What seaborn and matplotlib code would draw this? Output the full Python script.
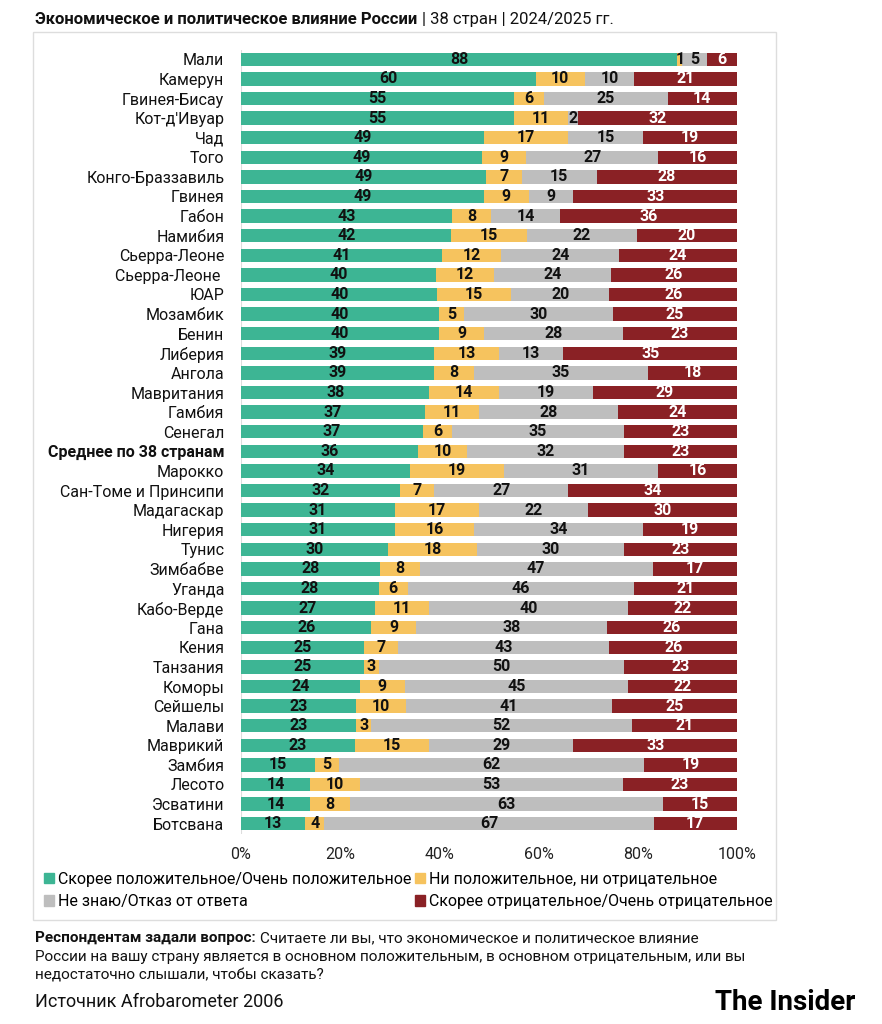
import numpy as np
import pandas as pd
import matplotlib
matplotlib.use("Agg")
import matplotlib.pyplot as plt
import matplotlib.patches as mpatches
import seaborn as sns

countries = ['Мали', 'Камерун', 'Гвинея-Бисау', "Кот-д'Ивуар", 'Чад', 'Того', 'Конго-Браззавиль',
             'Гвинея', 'Габон', 'Намибия', 'Сьерра-Леоне', 'Сьерра-Леоне ', 'ЮАР', 'Мозамбик', 'Бенин',
             'Либерия', 'Ангола', 'Мавритания', 'Гамбия', 'Сенегал', 'Среднее по 38 странам', 'Марокко',
             'Сан-Томе и Принсипи', 'Мадагаскар', 'Нигерия', 'Тунис', 'Зимбабве', 'Уганда', 'Кабо-Верде',
             'Гана', 'Кения', 'Танзания', 'Коморы', 'Сейшелы', 'Малави', 'Маврикий', 'Замбия', 'Лесото',
             'Эсватини', 'Ботсвана']
positive = [88, 60, 55, 55, 49, 49, 49, 49, 43, 42, 41, 40, 40, 40, 40, 39, 39, 38, 37, 37, 36, 34,
            32, 31, 31, 30, 28, 28, 27, 26, 25, 25, 24, 23, 23, 23, 15, 14, 14, 13]
neutral = [1, 10, 6, 11, 17, 9, 7, 9, 8, 15, 12, 12, 15, 5, 9, 13, 8, 14, 11, 6, 10, 19,
           7, 17, 16, 18, 8, 6, 11, 9, 7, 3, 9, 10, 3, 15, 5, 10, 8, 4]
dont_know = [5, 10, 25, 2, 15, 27, 15, 9, 14, 22, 24, 24, 20, 30, 28, 13, 35, 19, 28, 35, 32, 31,
             27, 22, 34, 30, 47, 46, 40, 38, 43, 50, 45, 41, 52, 29, 62, 53, 63, 67]
negative = [6, 21, 14, 32, 19, 16, 28, 33, 36, 20, 24, 26, 26, 25, 23, 35, 18, 29, 24, 23, 23, 16,
            34, 30, 19, 23, 17, 21, 22, 26, 26, 23, 22, 25, 21, 33, 19, 23, 15, 17]

series_names = ['Скорее положительное/Очень положительное', 'Ни положительное, ни отрицательное',
                'Не знаю/Отказ от ответа', 'Скорее отрицательное/Очень отрицательное']
colors = ['#3DB594', '#F6C35E', '#BEBEBE', '#8A2125']
text_colors = ['#111111', '#111111', '#111111', '#FFFFFF']

# %% data
df = pd.DataFrame({'country': countries, 'pos': positive, 'neu': neutral,
                   'dk': dont_know, 'neg': negative})
cols = ['pos', 'neu', 'dk', 'neg']
shares = df[cols].div(df[cols].sum(axis=1), axis=0) * 100
cum = shares.cumsum(axis=1)
cum['country'] = df['country']

FONT = 'Roboto'
plt.rcParams['font.family'] = [FONT, 'DejaVu Sans']

fig = plt.figure(figsize=(8.82, 10.24), dpi=100)
fig.patch.set_facecolor('white')

# box around the chart
fig.add_artist(mpatches.Rectangle((33 / 882, 1 - 920 / 1024), (776 - 33) / 882, (920 - 32) / 1024,
                                  transform=fig.transFigure, facecolor='none',
                                  edgecolor='#DDDDDD', linewidth=1.0))

ax = fig.add_axes([241 / 882, 1 - 833.5 / 1024, (737 - 241) / 882, 784 / 1024])

# stacked bars: draw cumulative totals from the largest down
for col, color in reversed(list(zip(cols, colors))):
    sns.barplot(data=cum, x=col, y='country', color=color, width=0.68,
                orient='h', ax=ax, saturation=1, linewidth=0, order=countries)

for i in range(len(df)):
    for j, col in enumerate(cols):
        left = cum[cols[j - 1]].iloc[i] if j > 0 else 0
        center = left + shares[col].iloc[i] / 2
        ax.text(center, i, str(df[col].iloc[i]), ha='center', va='center',
                fontsize=11.5, fontweight='bold', color=text_colors[j])

ax.set_xlim(0, 100)
ax.set_xticks([0, 20, 40, 60, 80, 100])
ax.set_xticklabels(['0%', '20%', '40%', '60%', '80%', '100%'])
ax.set_xlabel('')
ax.set_ylabel('')
ax.tick_params(axis='x', length=0, pad=10, labelsize=11.5, colors='#222222')
ax.tick_params(axis='y', length=0, pad=12, labelsize=11.5, colors='#111111')
for lbl in ax.get_yticklabels():
    if lbl.get_text().startswith('Среднее'):
        lbl.set_fontweight('bold')
for s in ax.spines.values():
    s.set_visible(False)
ax.axvline(0, color='#DDDDDD', linewidth=0.8, zorder=0)

# legend: column order gives rows green/yellow, gray/red
handles = [mpatches.Patch(color=c) for c in colors]
order = [0, 2, 1, 3]
fig.legend([handles[k] for k in order], [series_names[k] for k in order], ncol=2,
           loc='upper left', bbox_to_anchor=(44 / 882, 1 - 872 / 1024), frameon=False,
           fontsize=11.5, handlelength=0.6, handleheight=0.6, handletextpad=0.3,
           columnspacing=0.2, labelspacing=0.45, borderaxespad=0, borderpad=0)

renderer = fig.canvas.get_renderer()


def two_part(x, y, bold, rest, size):
    t = fig.text(x, y, bold, fontsize=size, fontweight='bold', va='baseline', color='#111111')
    bb = t.get_window_extent(renderer)
    fig.text(bb.x1 / fig.dpi / fig.get_figwidth() + 0.005, y, rest, fontsize=size,
             va='baseline', color='#111111')


two_part(35 / 882, 1 - 24 / 1024, 'Экономическое и политическое влияние России',
         '| 38 стран | 2024/2025 гг.', 12)
two_part(35 / 882, 1 - 942 / 1024, 'Респондентам задали вопрос:',
         'Считаете ли вы, что экономическое и политическое влияние', 11)
fig.text(35 / 882, 1 - 961 / 1024,
         'России на вашу страну является в основном положительным, в основном отрицательным, или вы',
         fontsize=11, va='baseline', color='#111111')
fig.text(35 / 882, 1 - 980 / 1024, 'недостаточно слышали, чтобы сказать?',
         fontsize=11, va='baseline', color='#111111')
fig.text(35 / 882, 1 - 1007 / 1024, 'Источник Afrobarometer 2006', fontsize=13,
         va='baseline', color='#111111')
fig.text(855 / 882, 1 - 1010 / 1024, 'The Insider', fontsize=20, fontweight='bold',
         ha='right', va='baseline', color='#000000')

fig.savefig('out.png', dpi=100, facecolor='white')
